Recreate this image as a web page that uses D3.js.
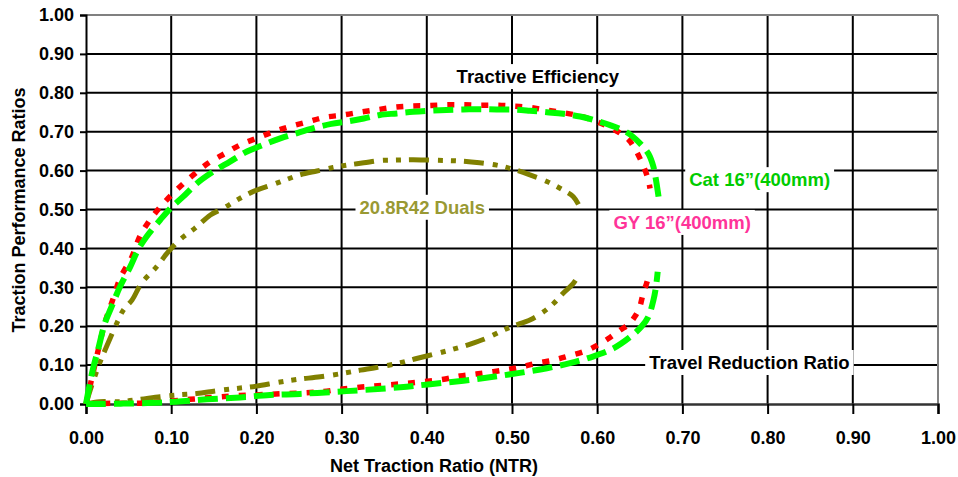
<!DOCTYPE html>
<html>
<head>
<meta charset="utf-8">
<script src="https://cdn.jsdelivr.net/npm/d3@7/dist/d3.min.js"></script>
<style>
  html, body { margin: 0; padding: 0; background: #fff; }
  svg { display: block; }
  text { font-family: "Liberation Sans", Arial, sans-serif; font-weight: bold; }
</style>
</head>
<body>
<svg id="chart" width="958" height="477"></svg>
<script>
// ---------- data ----------
const xTicks = [0, 0.1, 0.2, 0.3, 0.4, 0.5, 0.6, 0.7, 0.8, 0.9, 1.0];
const yTicks = [0, 0.1, 0.2, 0.3, 0.4, 0.5, 0.6, 0.7, 0.8, 0.9, 1.0];

// Tractive efficiency curves [NTR, ratio]
const gyTE = [[0,0],[0.009,0.087],[0.022,0.207],[0.032,0.272],[0.040,0.323],[0.054,0.379],[0.063,0.430],[0.075,0.473],[0.091,0.516],[0.108,0.554],[0.126,0.589],[0.144,0.620],[0.163,0.644],[0.181,0.666],[0.200,0.683],[0.220,0.700],[0.239,0.713],[0.261,0.726],[0.280,0.737],[0.302,0.743],[0.324,0.751],[0.343,0.757],[0.363,0.763],[0.382,0.766],[0.402,0.767],[0.423,0.769],[0.443,0.769],[0.462,0.768],[0.482,0.768],[0.500,0.766],[0.519,0.763],[0.539,0.756],[0.560,0.749],[0.582,0.739],[0.599,0.726],[0.613,0.713],[0.627,0.696],[0.637,0.679],[0.644,0.657],[0.650,0.632],[0.656,0.602],[0.660,0.576],[0.662,0.554]];
const catTE = [[0,0],[0.007,0.079],[0.015,0.147],[0.022,0.207],[0.030,0.250],[0.040,0.302],[0.052,0.353],[0.061,0.396],[0.071,0.430],[0.087,0.473],[0.099,0.503],[0.114,0.533],[0.130,0.567],[0.149,0.597],[0.169,0.623],[0.189,0.649],[0.208,0.666],[0.228,0.683],[0.247,0.696],[0.267,0.709],[0.288,0.720],[0.306,0.726],[0.326,0.734],[0.345,0.743],[0.365,0.747],[0.384,0.751],[0.404,0.754],[0.423,0.756],[0.443,0.757],[0.462,0.758],[0.482,0.757],[0.502,0.757],[0.521,0.754],[0.541,0.750],[0.560,0.746],[0.580,0.739],[0.599,0.728],[0.615,0.717],[0.631,0.703],[0.642,0.687],[0.652,0.666],[0.660,0.644],[0.666,0.610],[0.669,0.576],[0.672,0.533]];
const dualsTE = [[0,0],[0.005,0.036],[0.016,0.105],[0.024,0.147],[0.036,0.207],[0.044,0.242],[0.054,0.267],[0.065,0.310],[0.083,0.353],[0.095,0.387],[0.110,0.422],[0.128,0.452],[0.146,0.486],[0.161,0.503],[0.177,0.524],[0.196,0.546],[0.218,0.563],[0.234,0.576],[0.251,0.589],[0.271,0.599],[0.290,0.608],[0.306,0.614],[0.326,0.620],[0.345,0.626],[0.365,0.627],[0.384,0.628],[0.404,0.627],[0.423,0.626],[0.443,0.624],[0.462,0.620],[0.482,0.614],[0.502,0.603],[0.521,0.589],[0.541,0.572],[0.560,0.550],[0.572,0.533],[0.578,0.513]];

// Travel reduction ratio curves [NTR, ratio]
const gyTRR = [[0,0],[0.032,0.002],[0.059,0.002],[0.091,0.006],[0.122,0.012],[0.149,0.017],[0.173,0.021],[0.196,0.023],[0.216,0.025],[0.236,0.027],[0.259,0.029],[0.279,0.032],[0.298,0.038],[0.337,0.046],[0.376,0.053],[0.418,0.063],[0.439,0.072],[0.458,0.077],[0.478,0.083],[0.496,0.089],[0.513,0.096],[0.529,0.105],[0.549,0.113],[0.566,0.123],[0.586,0.136],[0.601,0.152],[0.615,0.171],[0.627,0.190],[0.637,0.205],[0.644,0.224],[0.650,0.250],[0.654,0.285],[0.658,0.310],[0.661,0.334]];
const catTRR = [[0,0],[0.016,0.000],[0.044,0.001],[0.079,0.003],[0.106,0.006],[0.142,0.012],[0.181,0.017],[0.216,0.023],[0.251,0.026],[0.290,0.031],[0.326,0.036],[0.369,0.043],[0.404,0.051],[0.443,0.060],[0.478,0.070],[0.509,0.080],[0.541,0.092],[0.568,0.105],[0.595,0.122],[0.619,0.143],[0.638,0.171],[0.652,0.199],[0.660,0.224],[0.666,0.267],[0.669,0.302],[0.671,0.340]];
const dualsTRR = [[0,0],[0.016,0.006],[0.040,0.006],[0.063,0.012],[0.087,0.019],[0.106,0.023],[0.130,0.027],[0.153,0.034],[0.177,0.040],[0.200,0.046],[0.224,0.055],[0.247,0.063],[0.275,0.070],[0.302,0.079],[0.322,0.087],[0.341,0.094],[0.369,0.106],[0.388,0.117],[0.412,0.130],[0.431,0.141],[0.451,0.154],[0.470,0.169],[0.490,0.190],[0.502,0.201],[0.521,0.216],[0.537,0.237],[0.549,0.259],[0.560,0.285],[0.572,0.310],[0.580,0.338]];

const labels = [
  {text: "Tractive Efficiency", x: 0.435, y: 0.825, color: "#000000"},
  {text: "20.8R42 Duals", x: 0.321, y: 0.489, color: "#999933"},
  {text: "GY 16\u201d(400mm)", x: 0.619, y: 0.450, color: "#ff3399"},
  {text: "Cat 16\u201d(400mm)", x: 0.708, y: 0.560, color: "#00cc00"},
  {text: "Travel Reduction Ratio", x: 0.661, y: 0.090, color: "#000000"}
];

// ---------- chart ----------
const svg = d3.select("#chart");
const x = d3.scaleLinear().domain([0, 1]).range([86, 938]);
const y = d3.scaleLinear().domain([0, 1]).range([404, 15]);
const fmt = d3.format(".2f");

// grid
const grid = svg.append("g");
grid.selectAll("line.h").data(yTicks.filter(v => v > 0 && v < 1)).enter().append("line")
  .attr("x1", x(0)).attr("x2", x(1)).attr("y1", d => y(d)).attr("y2", d => y(d))
  .attr("stroke", "#000").attr("stroke-width", 2);
grid.selectAll("line.v").data(xTicks.filter(v => v > 0 && v < 1)).enter().append("line")
  .attr("y1", y(0)).attr("y2", y(1)).attr("x1", d => x(d)).attr("x2", d => x(d))
  .attr("stroke", "#000").attr("stroke-width", 2);
// plot border (top/right grey)
svg.append("line").attr("x1", x(0)).attr("x2", x(1)).attr("y1", y(1)).attr("y2", y(1)).attr("stroke", "#808080").attr("stroke-width", 2);
svg.append("line").attr("x1", x(1)).attr("x2", x(1)).attr("y1", y(1)).attr("y2", y(0)).attr("stroke", "#808080").attr("stroke-width", 2);

// axes
const xAxis = d3.axisBottom(x).tickValues(xTicks).tickFormat(fmt).tickSize(10).tickPadding(17);
const gx = svg.append("g").attr("transform", `translate(0,${y(0)})`).call(xAxis);
gx.select(".domain").attr("stroke", "#333").attr("stroke-width", 2.5);
gx.selectAll(".tick line").attr("stroke", "#000").attr("stroke-width", 2);
gx.selectAll(".tick text").attr("font-size", 18).attr("fill", "#000")
  .style("font-family", "'Liberation Sans', Arial, sans-serif").style("font-weight", "bold");

const yAxis = d3.axisLeft(y).tickValues(yTicks).tickFormat(fmt).tickSize(6).tickPadding(6);
const gy = svg.append("g").attr("transform", `translate(${x(0)},0)`).call(yAxis);
gy.select(".domain").attr("stroke", "#000").attr("stroke-width", 2);
gy.selectAll(".tick line").attr("stroke", "#000").attr("stroke-width", 2);
gy.selectAll(".tick text").attr("font-size", 18).attr("fill", "#000")
  .style("font-family", "'Liberation Sans', Arial, sans-serif").style("font-weight", "bold");

// axis titles
svg.append("text").attr("x", 434).attr("y", 472).attr("text-anchor", "middle")
  .attr("font-size", 18).text("Net Traction Ratio (NTR)");
svg.append("text").attr("transform", "translate(24.5,210) rotate(-90)").attr("text-anchor", "middle")
  .attr("font-size", 18).text("Traction Performance Ratios");

// curves
const line = d3.line().x(d => x(d[0])).y(d => y(d[1])).curve(d3.curveCatmullRom.alpha(0.5));
const series = [
  {data: dualsTRR, color: "#808000", width: 5, dash: "20,9,5,8,5,8"},
  {data: dualsTE, color: "#808000", width: 5, dash: "20,9,5,8,5,8"},
  {data: gyTRR, color: "#ff0000", width: 5.5, dash: "7,10"},
  {data: gyTE, color: "#ff0000", width: 5.5, dash: "7,10"},
  {data: catTRR, color: "#00ff00", width: 6, dash: "20,8"},
  {data: catTE, color: "#00ff00", width: 6, dash: "20,8"}
];
svg.append("g").selectAll("path").data(series).enter().append("path")
  .attr("d", d => line(d.data)).attr("fill", "none")
  .attr("stroke", d => d.color).attr("stroke-width", d => d.width)
  .attr("stroke-dasharray", d => d.dash).attr("stroke-linecap", "butt");

// labels with white background
const lg = svg.append("g");
labels.forEach(l => {
  const t = lg.append("text").attr("x", x(l.x)).attr("y", y(l.y))
    .attr("font-size", 18.5).attr("fill", l.color).text(l.text);
  const b = t.node().getBBox();
  lg.insert("rect", "text").attr("x", b.x - 4).attr("y", b.y - 2)
    .attr("width", b.width + 8).attr("height", b.height + 4).attr("fill", "#fff");
});
</script>
</body>
</html>
